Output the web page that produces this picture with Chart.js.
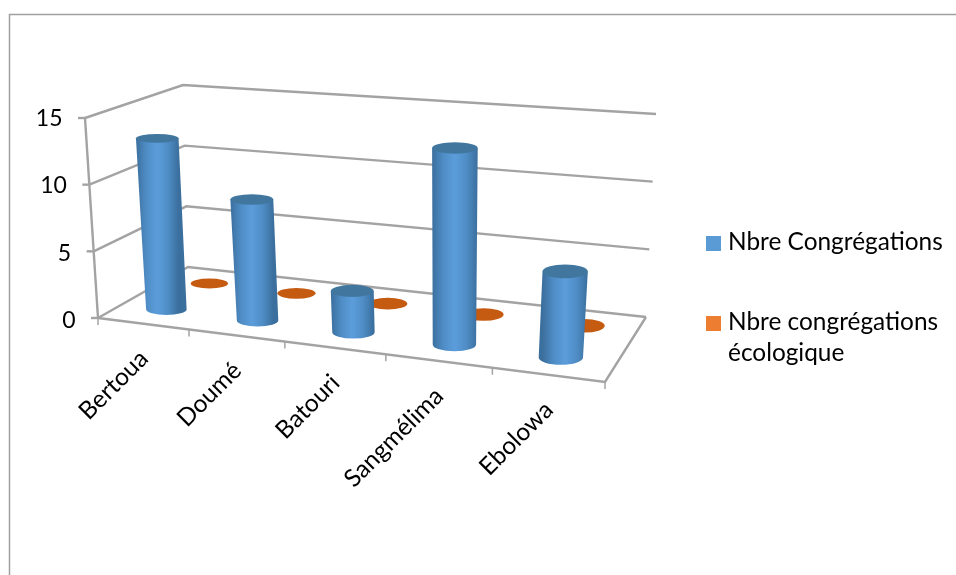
<!DOCTYPE html>
<html>
<head>
<meta charset="utf-8">
<title>Congrégations</title>
<script src="https://cdn.jsdelivr.net/npm/chart.js"></script>
<style>
  html, body { margin: 0; padding: 0; background: #fff; }
  canvas { display: block; }
</style>
</head>
<body>
<canvas id="myChart" width="956" height="575"></canvas>
<script>
// DATA
const categories = ['Bertoua', 'Doumé', 'Batouri', 'Sangmélima', 'Ebolowa'];
const congregations = [13, 9, 3, 14, 6];
const ecoCongregations = [0, 0, 0, 0, 0];
const yTicks = [0, 5, 10, 15];
const legendLines = [['Nbre Congrégations'], ['Nbre congrégations', 'écologique']];

// box corners on screen: front-left, front-right, back-right, back-left
const FLOOR = [[98, 318], [605, 382], [646, 317], [188, 267]];
const CEILING = [[85, 118], [625, 160], [656, 114], [183, 85]];

const GRID = '#a3a3a3';
const TEXT = '#000';
const FONT = 'Lato, "Open Sans", sans-serif';

// unit square -> quad, so the floor narrows towards the back
function quadMap(q) {
  const [[x0, y0], [x1, y1], [x2, y2], [x3, y3]] = q;
  const dx1 = x1 - x2, dx2 = x3 - x2, sx = x0 - x1 + x2 - x3;
  const dy1 = y1 - y2, dy2 = y3 - y2, sy = y0 - y1 + y2 - y3;
  const den = dx1 * dy2 - dx2 * dy1;
  const g = (sx * dy2 - dx2 * sy) / den;
  const h = (dx1 * sy - sx * dy1) / den;
  const a = x1 * (1 + g) - x0, b = x3 * (1 + h) - x0;
  const d = y1 * (1 + g) - y0, e = y3 * (1 + h) - y0;
  return (u, v) => {
    const w = 1 + g * u + h * v;
    return [(a * u + b * v + x0) / w, (d * u + e * v + y0) / w];
  };
}
const floorAt = quadMap(FLOOR);
const ceilingAt = quadMap(CEILING);

// u along the categories, v into the depth, t up the value axis (all 0..1)
function project(u, v, t) {
  const p = floorAt(u, v), q = ceilingAt(u, v);
  return [p[0] + (q[0] - p[0]) * t, p[1] + (q[1] - p[1]) * t];
}

function line(ctx, a, b) {
  ctx.beginPath();
  ctx.moveTo(a[0], a[1]);
  ctx.lineTo(b[0], b[1]);
  ctx.stroke();
}

function drawBox(chart) {
  const ctx = chart.ctx;
  const yScale = chart.scales.y;
  const area = chart.chartArea;
  ctx.strokeStyle = GRID;
  ctx.lineWidth = 2.4;

  // value lines along the side wall and the back wall
  yTicks.forEach(v => {
    const t = (area.bottom - yScale.getPixelForValue(v)) / area.height;
    const front = project(0, 0, t);
    const back = project(0, 1, t);
    const right = project(1, 1, t);
    ctx.beginPath();
    ctx.moveTo(front[0], front[1]);
    ctx.lineTo(back[0], back[1]);
    ctx.lineTo(right[0], right[1]);
    ctx.stroke();
    line(ctx, [front[0] - 7, front[1]], front);
    ctx.fillStyle = TEXT;
    ctx.font = '23px ' + FONT;
    ctx.textAlign = 'right';
    ctx.textBaseline = 'middle';
    ctx.fillText(String(v), front[0] - 22.5, front[1] + 2.5 - 2 * t);
  });
  line(ctx, project(0, 0, 0), project(0, 0, 1));

  // floor outline
  ctx.beginPath();
  ctx.moveTo(...project(0, 0, 0));
  ctx.lineTo(...project(1, 0, 0));
  ctx.lineTo(...project(1, 1, 0));
  ctx.stroke();

  // category ticks and slanted labels
  const n = categories.length;
  ctx.lineWidth = 1.5;
  for (let i = 0; i <= n; i++) {
    const p = project(i / n, 0, 0);
    line(ctx, p, [p[0], p[1] + 7]);
  }
  const xScale = chart.scales.x;
  categories.forEach((name, i) => {
    const u = (xScale.getPixelForValue(i) - area.left) / area.width;
    const p = project(u, 0, 0);
    ctx.save();
    ctx.translate(p[0] + 1, p[1] + 31);
    ctx.rotate(-Math.PI / 4);
    ctx.fillStyle = TEXT;
    ctx.font = '24.5px ' + FONT;
    ctx.textAlign = 'right';
    ctx.textBaseline = 'middle';
    ctx.fillText(name, 0, 0);
    ctx.restore();
  });
}

function drawCylinder(chart, el, v, style) {
  const ctx = chart.ctx;
  const area = chart.chartArea;
  const u = (el.x - area.left) / area.width;
  const t0 = (area.bottom - el.base) / area.height;
  const t1 = (area.bottom - el.y) / area.height;

  // columns keep nearly the same girth across the floor, a little less at the back
  const ends = t => {
    const c = project(u, v, t);
    const rx = el.width / 2 * (0.84 + 0.1 * u + 0.05 * t) * (1.04 - 0.16 * v);
    return { x: c[0], y: c[1], rx: rx, ry: rx * (0.26 + 0.08 * u - 0.07 * t) };
  };
  const base = ends(t0);
  const top = ends(t1);

  if (t1 > t0) {
    const grad = ctx.createLinearGradient(top.x - top.rx, 0, top.x + top.rx, 0);
    grad.addColorStop(0, style.edge);
    grad.addColorStop(0.25, style.mid);
    grad.addColorStop(0.5, style.body);
    grad.addColorStop(0.75, style.mid);
    grad.addColorStop(1, style.edge);
    ctx.fillStyle = grad;
    ctx.beginPath();
    ctx.moveTo(top.x - top.rx, top.y);
    ctx.lineTo(base.x - base.rx, base.y);
    ctx.ellipse(base.x, base.y, base.rx, base.ry, 0, Math.PI, 0, true);
    ctx.lineTo(top.x + top.rx, top.y);
    ctx.closePath();
    ctx.fill();
  }
  ctx.fillStyle = style.cap;
  ctx.beginPath();
  ctx.ellipse(top.x, top.y, top.rx, top.ry, 0, 0, Math.PI * 2);
  ctx.fill();
}

function drawLegend(chart) {
  const ctx = chart.ctx;
  const rows = [240, 320];
  chart.data.datasets.forEach((ds, i) => {
    ctx.fillStyle = ds.backgroundColor;
    ctx.fillRect(706, rows[i] - 4, 15, 15);
    ctx.fillStyle = TEXT;
    ctx.font = '24.4px ' + FONT;
    ctx.textAlign = 'left';
    ctx.textBaseline = 'alphabetic';
    legendLines[i].forEach((txt, k) => ctx.fillText(txt, 728, rows[i] + 10 + k * 31));
  });
}

const box3d = {
  id: 'box3d',
  beforeDatasetsDraw(chart) {
    const ctx = chart.ctx;
    // outer frame, open on the right and at the bottom
    ctx.strokeStyle = '#a0a0a0';
    ctx.lineWidth = 1.5;
    ctx.beginPath();
    ctx.moveTo(9.5, 575);
    ctx.lineTo(9.5, 14.5);
    ctx.lineTo(956, 14.5);
    ctx.stroke();

    drawBox(chart);

    // back row first so the front columns cover it
    const nSets = chart.data.datasets.length;
    for (let i = nSets - 1; i >= 0; i--) {
      const ds = chart.data.datasets[i];
      const v = (i + 0.5) / nSets;
      chart.getDatasetMeta(i).data.forEach(el => drawCylinder(chart, el, v, ds.shade));
    }
    drawLegend(chart);
    return false;
  }
};

new Chart(document.getElementById('myChart'), {
  type: 'bar',
  data: {
    labels: categories,
    datasets: [
      {
        label: 'Nbre Congrégations',
        data: congregations,
        backgroundColor: '#5b9bd5',
        shade: { body: '#5b9ddb', mid: '#4f8dc6', edge: '#3b6f9e', cap: '#41779f' }
      },
      {
        label: 'Nbre congrégations écologique',
        data: ecoCongregations,
        backgroundColor: '#ed7d31',
        shade: { body: '#ed7d31', mid: '#d96f28', edge: '#b0581c', cap: '#c55a11' }
      }
    ]
  },
  options: {
    responsive: false,
    animation: false,
    layout: { padding: { left: 98, right: 351, top: 85, bottom: 193 } },
    categoryPercentage: 1,
    barPercentage: 0.47,
    plugins: { legend: { display: false }, tooltip: { enabled: false } },
    scales: {
      x: { display: false, stacked: true },
      y: { display: false, min: yTicks[0], max: yTicks[yTicks.length - 1], ticks: { stepSize: 5 } }
    }
  },
  plugins: [box3d]
});
</script>
</body>
</html>
